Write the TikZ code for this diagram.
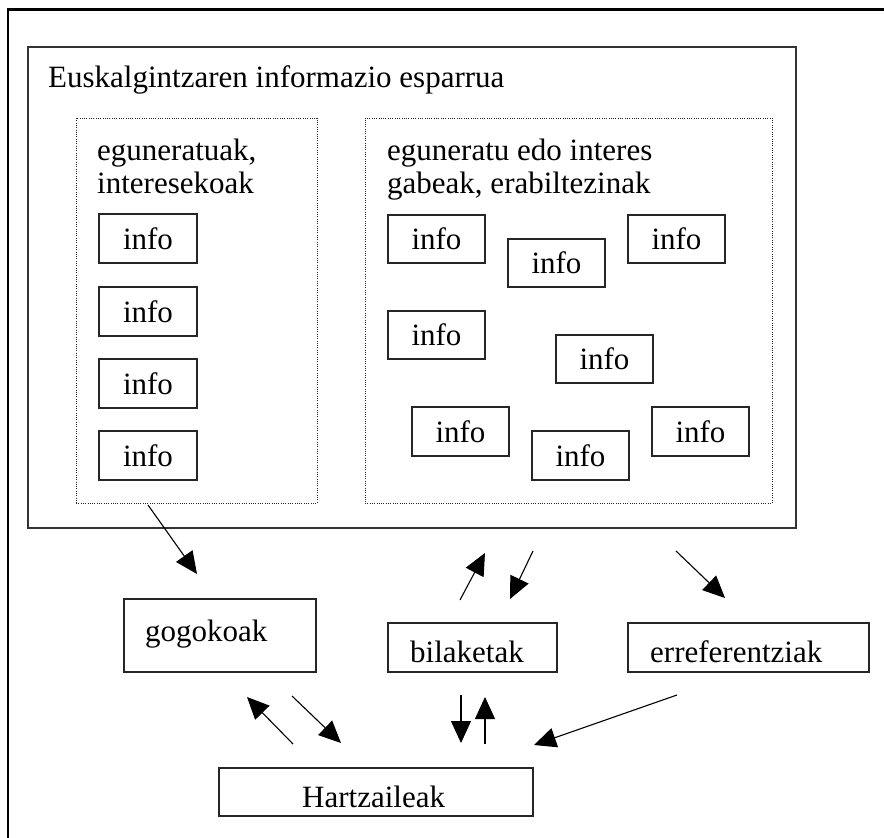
\documentclass[tikz,border=0pt]{standalone}
\usepackage{fontspec}
\setmainfont{Liberation Serif}
\usetikzlibrary{arrows.meta}
\newcommand\bx[7][]{\node[box,#1,minimum width={#5-#3},minimum height={#6-#4}] (#2) at ({(#3+#5)/2},{(#4+#6)/2}) {#7};}
\begin{document}
\begin{tikzpicture}[x=1pt,y=-1pt,
  font=\fontsize{31pt}{33pt}\selectfont,
  box/.style={draw=black!85,line width=1.8pt,inner sep=0pt,outer sep=0pt},
  bigbox/.style={draw=black!80,line width=1.8pt},
  dotbox/.style={draw=black!85,line width=1pt,dash pattern=on 1pt off 1.3pt},
  lbl/.style={anchor=base west,inner sep=0pt},
  arr/.style={draw=black,line width=1.1pt,-{Triangle[length=22pt,width=20pt]}}]
\useasboundingbox (0,0) rectangle (884,838);
\fill[white] (0,0) rectangle (884,838);
% outer frame
\draw[line width=2.6pt] (8,838) -- (8,9.5) -- (884,9.5);
% main area
\bx[bigbox]{main}{28}{47}{796}{528}{}
\node[lbl] (title) at (48,87) {Euskalgintzaren informazio esparrua};
\bx[dotbox]{left}{76}{118}{317}{503}{}
\bx[dotbox]{right}{365}{118}{772}{503}{}
\node[lbl] (lt1) at (97,160) {eguneratuak,};
\node[lbl] (lt2) at (97,193) {interesekoak};
\node[lbl] (rt1) at (387,160) {eguneratu edo interes};
\node[lbl] (rt2) at (387,193) {gabeak, erabiltezinak};
% left info boxes
\bx{l1}{99}{214}{197}{263}{\raisebox{-2pt}{info}}
\bx{l2}{99}{287}{197}{336}{\raisebox{-2pt}{info}}
\bx{l3}{99}{359}{197}{408}{\raisebox{-2pt}{info}}
\bx{l4}{99}{431}{197}{480}{\raisebox{-2pt}{info}}
% right info boxes
\bx{r1}{388}{215}{485}{263}{\raisebox{-2pt}{info}}
\bx{r2}{508}{239}{605}{287}{\raisebox{-2pt}{info}}
\bx{r3}{628}{215}{725}{263}{\raisebox{-2pt}{info}}
\bx{r4}{388}{311}{485}{359}{\raisebox{-2pt}{info}}
\bx{r5}{556}{335}{653}{383}{\raisebox{-2pt}{info}}
\bx{r6}{412}{407}{509}{456}{\raisebox{-2pt}{info}}
\bx{r7}{532}{431}{629}{480}{\raisebox{-2pt}{info}}
\bx{r8}{652}{407}{749}{456}{\raisebox{-2pt}{info}}
% lower boxes
\bx{gog}{124}{599}{316}{672}{}
\bx{bil}{388}{623}{557}{672}{}
\bx{err}{628}{623}{869}{672}{}
\bx{hart}{219}{768}{533}{816}{}
\node[lbl] (gogt) at (145,641) {gogokoak};
\node[lbl] (bilt) at (410,662) {bilaketak};
\node[lbl] (errt) at (650,662) {erreferentziak};
\node[lbl] (hartt) at (302,807) {Hartzaileak};
% arrow end points
\coordinate (a1s) at (148,505); \coordinate (a1e) at (197,574);
\coordinate (a2s) at (460,600); \coordinate (a2e) at (485,553);
\coordinate (a3s) at (533,551); \coordinate (a3e) at (510,599);
\coordinate (a4s) at (676,551); \coordinate (a4e) at (725,598);
\coordinate (a5s) at (293,744); \coordinate (a5e) at (247,697);
\coordinate (a6s) at (292,696); \coordinate (a6e) at (341,743);
\coordinate (a7s) at (461,695); \coordinate (a7e) at (461,743);
\coordinate (a8s) at (485,744); \coordinate (a8e) at (485,697);
\coordinate (a9s) at (677,695); \coordinate (a9e) at (534,745);
\foreach \i in {1,...,9} {\draw[arr] (a\i s) -- (a\i e);}
\end{tikzpicture}
\end{document}
